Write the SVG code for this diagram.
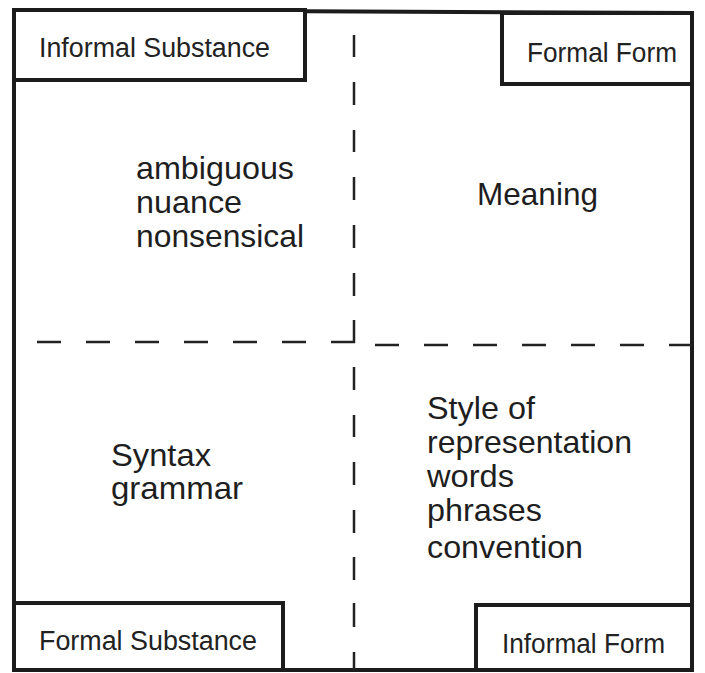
<svg xmlns="http://www.w3.org/2000/svg" width="705" height="673" viewBox="0 0 705 673">
  <style>
    .frame { fill: none; stroke: #1c1c1c; stroke-width: 4; stroke-linejoin: miter; }
    .box { fill: #ffffff; stroke: #1c1c1c; stroke-width: 4; }
    .dash { fill: none; stroke: #222222; stroke-width: 2.5; }
    .label { font-family: "Liberation Sans", Arial, sans-serif; font-size: 27px; fill: #222222; }
    .body { font-family: "Liberation Sans", Arial, sans-serif; font-size: 32px; fill: #1e1e1e; }
  </style>
  <rect width="705" height="673" fill="#ffffff"/>

  <!-- outer frame -->
  <polygon class="frame" points="14,10 692,13 692,670 14,670"/>

  <!-- dashed quadrant dividers -->
  <g id="connectors">
    <path class="dash" d="M354,35 V57 M354,82 V105 M354,130 V152 M354,177 V200 M354,225 V248 M354,273 V296 M354,320 V342 H331"/>
    <path class="dash" d="M37,342 H61 M86,342 H110 M135,342 H159 M184,342 H208 M233,342 H257 M282,342 H306"/>
    <path class="dash" d="M375,345 H399 M424,345 H448 M473,345 H497 M522,345 H546 M571,345 H595 M620,345 H644 M669,345 H692"/>
    <path class="dash" d="M354,367 V390 M354,415 V437 M354,462 V485 M354,510 V533 M354,557 V580 M354,603 V627 M354,652 V670"/>
  </g>

  <!-- corner labels -->
  <g id="informal-substance">
    <rect class="box" x="14" y="10" width="291" height="70"/>
    <text class="label" x="39" y="57" textLength="231" lengthAdjust="spacingAndGlyphs">Informal Substance</text>
  </g>
  <g id="formal-form">
    <rect class="box" x="502" y="13" width="190" height="71"/>
    <text class="label" x="527" y="62" textLength="150" lengthAdjust="spacingAndGlyphs">Formal Form</text>
  </g>
  <g id="formal-substance">
    <rect class="box" x="14" y="603" width="269" height="67"/>
    <text class="label" x="39" y="650" textLength="218" lengthAdjust="spacingAndGlyphs">Formal Substance</text>
  </g>
  <g id="informal-form">
    <rect class="box" x="476" y="605" width="216" height="65"/>
    <text class="label" x="502" y="653" textLength="163" lengthAdjust="spacingAndGlyphs">Informal Form</text>
  </g>

  <!-- quadrant contents -->
  <g id="informal-substance-terms">
    <text class="body" x="136" y="179" textLength="158" lengthAdjust="spacingAndGlyphs">ambiguous</text>
    <text class="body" x="136" y="213" textLength="106" lengthAdjust="spacingAndGlyphs">nuance</text>
    <text class="body" x="136" y="247" textLength="168" lengthAdjust="spacingAndGlyphs">nonsensical</text>
  </g>
  <g id="formal-form-terms">
    <text class="body" x="477" y="205" textLength="121" lengthAdjust="spacingAndGlyphs">Meaning</text>
  </g>
  <g id="formal-substance-terms">
    <text class="body" x="111" y="466" textLength="100" lengthAdjust="spacingAndGlyphs">Syntax</text>
    <text class="body" x="111" y="499" textLength="132" lengthAdjust="spacingAndGlyphs">grammar</text>
  </g>
  <g id="informal-form-terms">
    <text class="body" x="427" y="419" textLength="108" lengthAdjust="spacingAndGlyphs">Style of</text>
    <text class="body" x="427" y="453" textLength="205" lengthAdjust="spacingAndGlyphs">representation</text>
    <text class="body" x="427" y="487" textLength="87" lengthAdjust="spacingAndGlyphs">words</text>
    <text class="body" x="427" y="521" textLength="115" lengthAdjust="spacingAndGlyphs">phrases</text>
    <text class="body" x="427" y="558" textLength="156" lengthAdjust="spacingAndGlyphs">convention</text>
  </g>
</svg>
